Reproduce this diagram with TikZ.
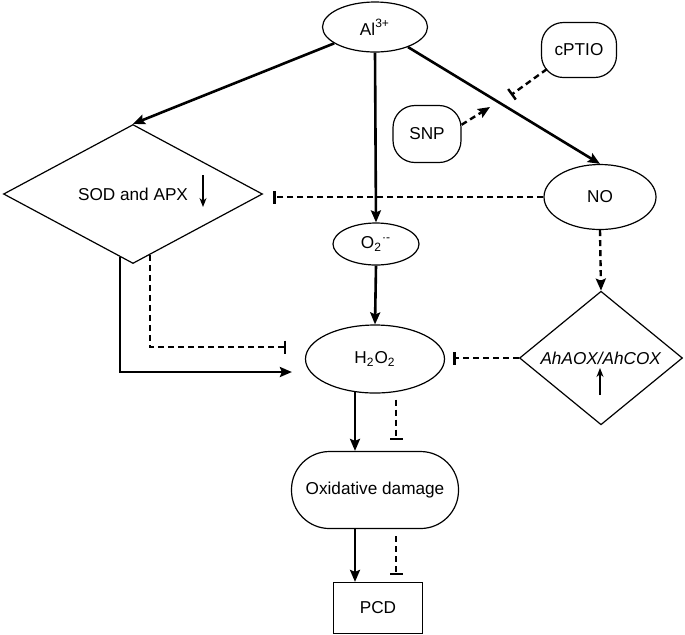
\documentclass[tikz,border=0pt]{standalone}
\usepackage{fontspec}
\setmainfont{Liberation Sans}
\usetikzlibrary{arrows.meta,positioning,shapes.geometric,calc}

\tikzset{
  oval/.style={ellipse,draw,line width=0.6pt,inner sep=0pt},
  blob/.style={rectangle,draw,line width=0.6pt,rounded corners=11pt,inner sep=0pt},
  rhomb/.style={diamond,draw,line width=0.6pt,inner sep=0pt},
  act/.style={line width=1.3pt,-{Stealth[length=6pt,width=5pt,inset=1pt]}},
  dact/.style={act,line width=1.2pt,dash pattern=on 3pt off 2pt},
  inh/.style={line width=1.2pt,dash pattern=on 3pt off 2pt,-{Bar[width=6.5pt]}},
  updown/.style={line width=0.6pt,-{Stealth[length=4.5pt,width=3.5pt]}},
}

\begin{document}
\begin{tikzpicture}[x=0.5pt,y=-0.5pt,font=\fontsize{8.6}{10}\selectfont]
    \useasboundingbox (0,0) rectangle (685,634);
    % Nodes
    \node[oval,minimum width=52.5pt,minimum height=25pt] (al) at (375,27) {Al\textsuperscript{3+}};
    \node[blob,minimum width=37.5pt,minimum height=27.5pt] (cptio) at (579,50) {cPTIO};
    \node[blob,minimum width=34pt,minimum height=28.5pt] (snp) at (427,134) {SNP};
    \node[rhomb,minimum width=129.5pt,minimum height=69.5pt] (sod) at (133,194) {SOD and APX};
    \node[oval,minimum width=56pt,minimum height=32.5pt] (no) at (600,197) {NO};
    \node[oval,minimum width=43pt,minimum height=21pt] (o2) at (376,244) {O\textsubscript{2}\textsuperscript{·-}};
    \node[oval,minimum width=69.5pt,minimum height=34pt] (h2o2) at (375,359) {H\textsubscript{2}O\textsubscript{2}};
    \node[rhomb,minimum width=81.5pt,minimum height=51pt] (aox) at (601,358) {\textit{AhAOX/AhCOX}};
    \node[blob,rounded corners=19pt,minimum width=83.5pt,minimum height=38.5pt] (ox) at (375,490) {Oxidative damage};
    \node[rectangle,draw,line width=0.6pt,minimum width=44.5pt,minimum height=25.5pt] (pcd) at (378,608) {PCD};
    % up/down marks in the diamonds
    \draw[updown] ($(sod.center)+(70,-19)$) -- ++(0,32);
    \draw[updown] ($(aox.center)+(-1,37)$) -- ++(0,-27);
    % Connections
    \coordinate (snpend) at (490,107);
    \coordinate (cptioend) at (511,95);
    \draw[act] (al) -- (sod.north);
    \draw[act] (al.south) -- (o2.north);
    \draw[act] (al) -- (no.north);
    \draw[dact] (snp.15) -- (snpend);
    \draw[inh] ($(cptio.south west)+(6,-9)$) -- (cptioend);
    \draw[inh,shorten >=5pt] (no.west) -- (no.west -| sod.east);
    \draw[dact] (no.south) -- (aox.north);
    \draw[act] (o2.south) -- (h2o2.north);
    \draw[inh,shorten >=4pt] (aox.west) -- (aox.west -| h2o2.east);
    \draw[act] ($(sod.south)!0.1!(sod.west)$) |- ($(h2o2.west)+(-13,13)$);
    \draw[inh] ($(sod.south)!0.13!(sod.east)$) |- ($(h2o2.west)+(-19,-12)$);
    \draw[act] ($(h2o2.south)+(-20,-2)$) coordinate (h1) -- (h1 |- ox.north);
    \draw[inh] ($(h2o2.south)+(21,6)$) coordinate (h2) -- ($(h2 |- ox.north)+(0,-11)$);
    \draw[act] ($(ox.south)+(-20,0)$) coordinate (o1) -- (o1 |- pcd.north);
    \draw[inh] ($(ox.south)+(21,7)$) coordinate (o3) -- ($(o3 |- pcd.north)+(0,-7)$);
\end{tikzpicture}
\end{document}
